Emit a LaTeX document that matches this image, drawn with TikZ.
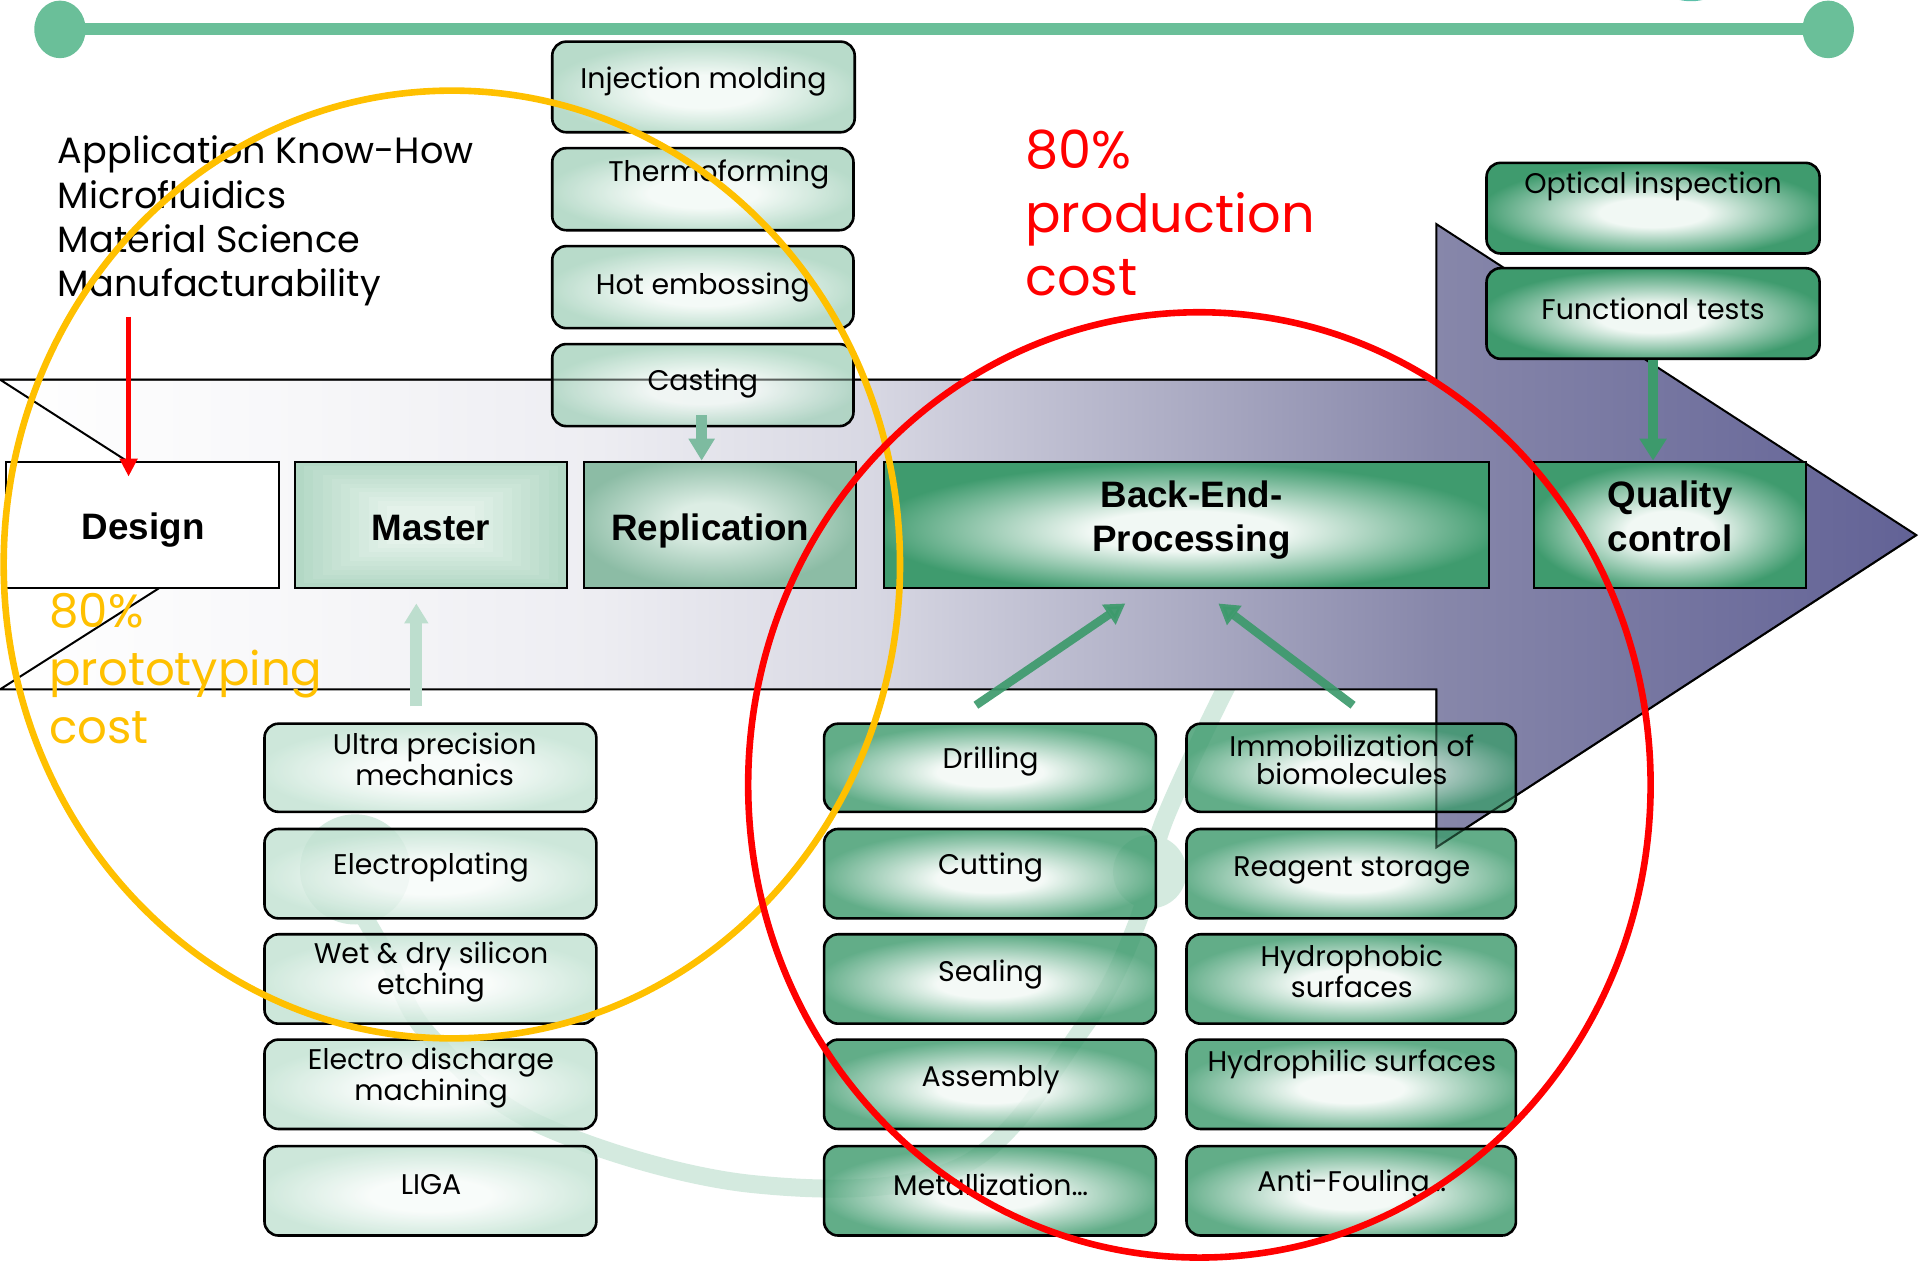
\documentclass[tikz,border=0pt]{standalone}
\usepackage{fontspec}
\setmainfont{Poppins}
\newfontfamily\arialbold{Liberation Sans}
\usetikzlibrary{arrows.meta,calc,fit,shapes.geometric}

\definecolor{railgreen}{HTML}{6ABF99}
\definecolor{tealtop}{HTML}{5CC0AA}
\definecolor{swooshc}{HTML}{D4EADF}
\definecolor{darkg}{HTML}{3F9B6E}
\definecolor{darkgc}{HTML}{F1F8F4}
\definecolor{paleg}{HTML}{A8D3BE}
\definecolor{palegc}{HTML}{F2F9F5}
\definecolor{mintg}{HTML}{C2E2D2}
\definecolor{mintgc}{HTML}{F7FBF9}
\definecolor{repg}{HTML}{8CBCA5}
\definecolor{repgc}{HTML}{DCEDE4}
\definecolor{mastout}{HTML}{B3D8C5}
\definecolor{mastin}{HTML}{E4F2EA}
\definecolor{conng}{HTML}{3D9A6C}
\definecolor{castg}{HTML}{7DBBA0}
\definecolor{ultrag}{HTML}{BDDECE}
\definecolor{protoc}{HTML}{FFC000}
\definecolor{sh1}{HTML}{F7F7F9}
\definecolor{sh2}{HTML}{EDEDF2}
\definecolor{sh3}{HTML}{D8D8E3}
\definecolor{sh4}{HTML}{CBCBDA}
\definecolor{sh5}{HTML}{ABABC3}
\definecolor{sh6}{HTML}{8787AA}
\definecolor{sh7}{HTML}{626296}

\pgfdeclarehorizontalshading{arrowshade}{100bp}{color(0bp)=(white); color(25bp)=(white); color(33bp)=(sh1); color(40.6bp)=(sh2); color(47.7bp)=(sh3); color(50bp)=(sh4); color(56bp)=(sh5); color(62.5bp)=(sh6); color(75bp)=(sh7); color(100bp)=(sh7)}
\pgfdeclareradialshading{glowdark}{\pgfpoint{0bp}{-3bp}}{color(0bp)=(darkgc); color(8bp)=(darkgc); color(26bp)=(darkg); color(50bp)=(darkg)}
\pgfdeclareradialshading{glowpale}{\pgfpoint{0bp}{-3bp}}{color(0bp)=(palegc); color(9bp)=(palegc); color(26bp)=(paleg); color(50bp)=(paleg)}
\pgfdeclareradialshading{glowmint}{\pgfpoint{0bp}{-3bp}}{color(0bp)=(mintgc); color(9bp)=(mintgc); color(26bp)=(mintg); color(50bp)=(mintg)}
\pgfdeclareradialshading{glowrep}{\pgfpoint{-2bp}{2bp}}{color(0bp)=(repgc); color(7bp)=(repgc); color(26bp)=(repg); color(50bp)=(repg)}

\tikzset{
  rbox/.style={draw=black, line width=1.3pt, rounded corners=7pt, inner sep=0pt, fill opacity=0.82},
  pbox/.style={rbox, shading=glowpale},
  mbox/.style={rbox, shading=glowmint},
  dbox/.style={rbox, shading=glowdark},
  qbox/.style={rbox, fill opacity=1, shading=glowdark},
  sbox/.style={draw=black, line width=1pt, inner sep=0pt},
  blbl/.style={inner sep=0pt, align=center, font=\arialbold\bfseries\fontsize{18.4}{22}\selectfont},
  lbl/.style={inner sep=0pt, align=center, font=\fontsize{14.2}{14.1}\selectfont},
  conn/.style={line width=4.2pt, draw=conng, opacity=0.92, -{Triangle[length=10pt,width=11.5pt]}},
  qcarr/.style={line width=4.6pt, draw=conng, -{Triangle[length=11pt,width=13pt]}},
  castarr/.style={line width=5.6pt, draw=castg, -{Triangle[length=11pt,width=12.5pt]}},
  ultraarr/.style={line width=6pt, draw=ultrag, -{Triangle[length=10pt,width=11.5pt]}},
  redarr/.style={line width=2.3pt, draw=red, -{Triangle[length=9pt,width=8.6pt]}},
  railc/.style={ellipse, fill=railgreen, inner sep=0pt, minimum width=25.7pt, minimum height=28.8pt},
  ring/.style={line width=3.3pt}
}

\begin{document}
\begin{tikzpicture}[x=0.6123pt,y=-0.6123pt]
\useasboundingbox (0,0) rectangle (1568,1030);

% top rail
\fill[tealtop] (1381,-22.5) ellipse [x radius=32, y radius=23.5];
\node[railc] (railL) at (49,24) {};
\node[railc] (railR) at (1493,24) {};
\draw[railgreen, line width=5.9pt] (railL.center) -- (railR.center);

% faint background swoosh
\fill[swooshc] (290,710) circle [radius=45];
\fill[swooshc] (939,712) circle [radius=30];
\draw[swooshc, line width=9pt, line cap=round] plot[smooth, tension=0.6] coordinates
  {(298,750) (318,785) (350,845) (440,918) (615,967) (784,953) (884,840) (929,753) (950,672) (1002,560)};

% big process arrow
\shade[shading=arrowshade] (0,310) -- (1173,310) -- (1173,183) -- (1565,437) -- (1173,692)
  -- (1173,563) -- (0,563) -- (198,437) -- cycle;
\draw[line width=1pt] (0,310) -- (1173,310) -- (1173,183) -- (1565,437) -- (1173,692)
  -- (1173,563) -- (0,563) -- (198,437) -- cycle;

% replication options
\node[pbox, fit={(451,34) (698,108)}] (inj) {};
\node[pbox, fit={(451,121) (697,188)}] (thermo) {};
\node[pbox, fit={(451,201) (697,268)}] (hot) {};
\node[pbox, fit={(451,281) (697,348)}] (cast) {};

% master options
\node[mbox, fit={(216,591) (487,663)}] (ultra) {};
\node[mbox, fit={(216,677) (487,750)}] (electro) {};
\node[mbox, fit={(216,763) (487,836)}] (wet) {};
\node[mbox, fit={(216,849) (487,922)}] (edm) {};
\node[mbox, fit={(216,936) (487,1009)}] (liga) {};

% back-end options
\node[dbox, fit={(673,591) (944,663)}] (drill) {};
\node[dbox, fit={(673,677) (944,750)}] (cut) {};
\node[dbox, fit={(673,763) (944,836)}] (seal) {};
\node[dbox, fit={(673,849) (944,922)}] (assem) {};
\node[dbox, fit={(673,936) (944,1009)}] (metal) {};
\node[dbox, fit={(969,591) (1238,663)}] (immob) {};
\node[dbox, fit={(969,677) (1238,750)}] (reag) {};
\node[dbox, fit={(969,763) (1238,836)}] (hphob) {};
\node[dbox, fit={(969,849) (1238,922)}] (hphil) {};
\node[dbox, fit={(969,936) (1238,1009)}] (anti) {};

% arrow outline faintly seen through the boxes
\draw[line width=1pt, draw opacity=0.5] (0,310) -- (1173,310) (1173,563) -- (1173,692) -- (1565,437);

% quality options (opaque)
\node[qbox, fit={(1214,133) (1486,207)}] (optic) {};
\node[qbox, fit={(1214,219) (1486,293)}] (func) {};

% main process steps
\node[sbox, fill=white, fit={(5,377) (228,480)}] (design) {};
\node[sbox, fill=mastout, fit={(241,377) (463,480)},
  path picture={\foreach \i in {1,...,10}{\pgfmathsetmacro\pc{\i*10}
    \fill[mastin!\pc!mastout] ($(path picture bounding box.north west)+(\i*7.5,\i*3.6)$)
      rectangle ($(path picture bounding box.south east)+(-\i*7.5,-\i*3.6)$);}}] (master) {};
\node[sbox, shading=glowrep, fit={(477,377) (699,480)}] (repl) {};
\node[sbox, shading=glowdark, fit={(722,377) (1216,480)}] (bep) {};
\node[sbox, shading=glowdark, fit={(1253,377) (1475,480)}] (qc) {};

\node[blbl] at ($(design.center)+(0.5,4)$) {Design};
\node[blbl] at ($(master.center)+(0,2.5)$) {Master};
\node[blbl] at ($(repl.center)+(-8,5)$) {Replication};
\node[blbl] at ($(bep.center)+(4,-3.5)$) {Back-End-\\Processing};
\node[blbl] at ($(qc.center)+(0,-6.5)$) {Quality\\control};

% box labels
\node[lbl] at ($(inj.center)+(0,-4.5)$) {Injection molding};
\node[lbl] at ($(thermo.center)+(13,-12)$) {Thermoforming};
\node[lbl] at ($(hot.center)+(0,0)$) {Hot embossing};
\node[lbl] at ($(cast.center)+(0,-1)$) {Casting};
\node[lbl] at ($(ultra.center)+(3.5,-6.5)$) {Ultra precision\\mechanics};
\node[lbl] at ($(electro.center)+(0.5,-5)$) {Electroplating};
\node[lbl] at ($(wet.center)+(0.5,-6)$) {Wet \& dry silicon\\etching};
\node[lbl] at ($(edm.center)+(0.5,-5)$) {Electro discharge\\machining};
\node[lbl] at ($(liga.center)+(0.5,-5)$) {LIGA};
\node[lbl] at ($(drill.center)+(0.5,-5)$) {Drilling};
\node[lbl] at ($(cut.center)+(0.5,-5)$) {Cutting};
\node[lbl] at ($(seal.center)+(0.5,-4)$) {Sealing};
\node[lbl] at ($(assem.center)+(0.5,-4)$) {Assembly};
\node[lbl] at ($(metal.center)+(0.5,-5)$) {Metallization\dots};
\node[lbl] at ($(immob.center)+(0.5,-6.5)$) {Immobilization of\\biomolecules};
\node[lbl] at ($(reag.center)+(0.5,-3)$) {Reagent storage};
\node[lbl] at ($(hphob.center)+(0.5,-6)$) {Hydrophobic\\surfaces};
\node[lbl] at ($(hphil.center)+(0.5,-16)$) {Hydrophilic surfaces};
\node[lbl] at ($(anti.center)+(0.5,-5)$) {Anti-Fouling\dots};
\node[lbl] at ($(optic.center)+(0,-17.5)$) {Optical inspection};
\node[lbl] at ($(func.center)+(0,-4)$) {Functional tests};

% free texts
\node[anchor=west, align=left, inner sep=0pt, font=\fontsize{18.3}{22.2}\selectfont] (skills)
  at (47,180.5) {Application Know-How\\Microfluidics\\Material Science\\Manufacturability};
\node[anchor=west, align=left, inner sep=0pt, text=red, font=\fontsize{26.3}{31.8}\selectfont] (prod)
  at (837,174) {80\%\\production\\cost};
\node[anchor=west, align=left, inner sep=0pt, text=protoc, font=\fontsize{23.3}{29}\selectfont] (proto)
  at (40,546) {80\%\\prototyping\\cost};

% connectors
\coordinate (dtip) at ($(design.north)+(-11.5,13)$);
\draw[redarr] ([yshift=-5pt]skills.south -| dtip) -- (dtip);
\coordinate (c1) at ($(cast.south)+(-1,-10)$);
\draw[castarr] (c1) -- (c1 |- repl.north);
\coordinate (u1) at ($(ultra.north)+(-11.5,-13)$);
\draw[ultraarr] (u1) -- ($(u1 |- master.south)+(0,12)$);
\draw[conn] ($(drill.north)+(-11.5,-14)$) -- ($(bep.south)+(-50,12)$);
\draw[conn] ($(immob.north)+(1.5,-14)$) -- ($(bep.south)+(26,12)$);
\draw[qcarr] (func.south) -- (func.south |- qc.north);

% cost rings
\draw[ring, protoc] (369,461) ellipse [x radius=366, y radius=387];
\draw[ring, red] (979.5,641) ellipse [x radius=368.5, y radius=386];
\end{tikzpicture}
\end{document}
